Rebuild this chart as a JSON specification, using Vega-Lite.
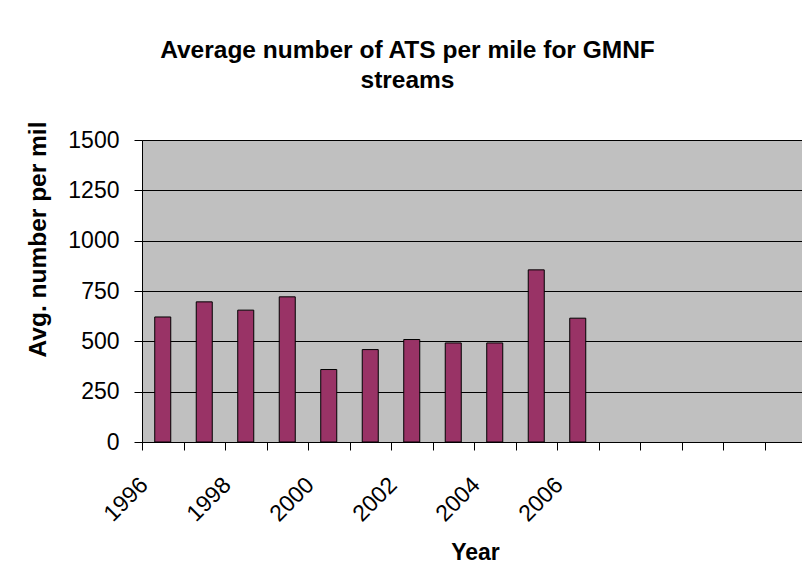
{
  "$schema": "https://vega.github.io/schema/vega-lite/v6.json",
  "autosize": {"type": "none"},
  "padding": {"left": 142, "top": 140, "right": 0, "bottom": 135},
  "width": 660,
  "height": 302,
  "background": "white",
  "title": {
    "text": ["Average number of ATS per mile for GMNF", "streams"],
    "font": "Liberation Sans",
    "fontSize": 24.5,
    "fontWeight": "bold",
    "color": "black",
    "anchor": "middle",
    "frame": "group",
    "dx": -64.5,
    "offset": 28,
    "lineHeight": 30
  },
  "data": {
    "values": [
      {"Year": 1996, "Avg": 621},
      {"Year": 1997, "Avg": 696},
      {"Year": 1998, "Avg": 655},
      {"Year": 1999, "Avg": 721},
      {"Year": 2000, "Avg": 360},
      {"Year": 2001, "Avg": 459},
      {"Year": 2002, "Avg": 509},
      {"Year": 2003, "Avg": 492},
      {"Year": 2004, "Avg": 492},
      {"Year": 2005, "Avg": 855},
      {"Year": 2006, "Avg": 615}
    ]
  },
  "mark": {"type": "bar", "fill": "#993366", "stroke": "black", "strokeWidth": 1},
  "encoding": {
    "x": {
      "field": "Year",
      "type": "ordinal",
      "scale": {
        "domain": [1996, 1997, 1998, 1999, 2000, 2001, 2002, 2003, 2004, 2005, 2006, 2007, 2008, 2009, 2010, 2011],
        "range": [0, 664],
        "paddingInner": 0.614,
        "paddingOuter": 0.307
      },
      "axis": {
        "title": "Year",
        "titleFont": "Liberation Sans",
        "titleFontSize": 23,
        "titleFontWeight": "bold",
        "titleColor": "black",
        "titleX": 333,
        "titleY": 117,
        "titleBaseline": "alphabetic",
        "titleAlign": "center",
        "labelExpr": "datum.value <= 2006 && datum.value % 2 == 0 ? datum.label : ''",
        "labelAngle": -45,
        "labelAlign": "right",
        "labelBaseline": "middle",
        "labelFont": "Liberation Sans",
        "labelFontSize": 23,
        "labelColor": "black",
        "labelOverlap": false,
        "labelBound": false,
        "labelFlush": false,
        "labelPadding": 31,
        "labelOffset": 1.75,
        "tickOffset": -20.75,
        "tickSize": 8,
        "tickColor": "black",
        "tickWidth": 1,
        "domainColor": "black",
        "domainWidth": 1,
        "grid": false
      }
    },
    "y": {
      "field": "Avg",
      "type": "quantitative",
      "scale": {"domain": [0, 1500], "nice": false, "zero": true},
      "axis": {
        "title": "Avg. number per mil",
        "titleFont": "Liberation Sans",
        "titleFontSize": 24.5,
        "titleFontWeight": "bold",
        "titleColor": "black",
        "titleAngle": -90,
        "titleX": -97,
        "titleY": 99,
        "titleAlign": "center",
        "titleBaseline": "alphabetic",
        "values": [0, 250, 500, 750, 1000, 1250, 1500],
        "format": "d",
        "labelFont": "Liberation Sans",
        "labelFontSize": 23,
        "labelColor": "black",
        "labelPadding": 15,
        "labelFlush": false,
        "labelBound": false,
        "labelOverlap": false,
        "tickSize": 8,
        "tickColor": "black",
        "domainColor": "black",
        "grid": true,
        "gridColor": "black",
        "gridWidth": 1,
        "gridOpacity": 1
      }
    }
  },
  "config": {
    "view": {"fill": "#C0C0C0", "stroke": "#808080", "strokeWidth": 1}
  }
}
